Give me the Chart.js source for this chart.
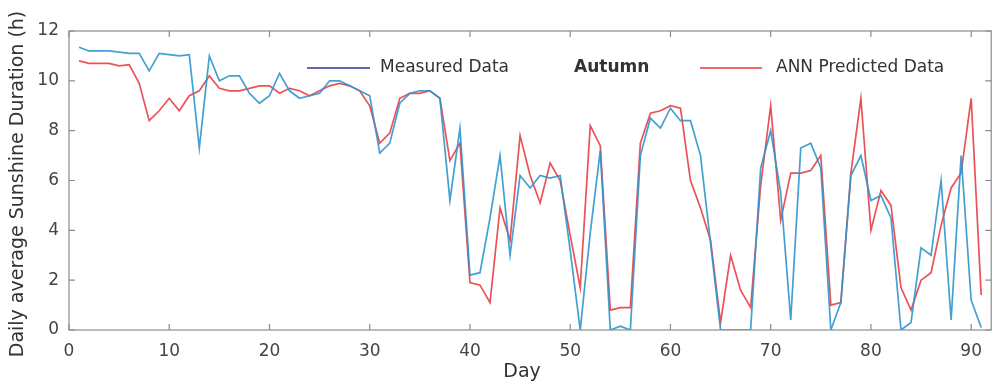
<!DOCTYPE html>
<html>
<head>
<meta charset="utf-8">
<script src="https://cdn.jsdelivr.net/npm/chart.js@4.4.0/dist/chart.umd.min.js"></script>
<style>
  html, body { margin: 0; padding: 0; background: #fff; }
  #wrap { width: 993px; height: 385px; }
</style>
</head>
<body>
<div id="wrap"><canvas id="chart" width="993" height="385"></canvas></div>
<script>
// day numbers (x axis)
var days = [1,2,3,4,5,6,7,8,9,10,11,12,13,14,15,16,17,18,19,20,
  21,22,23,24,25,26,27,28,29,30,31,32,33,34,35,36,37,38,39,40,
  41,42,43,44,45,46,47,48,49,50,51,52,53,54,55,56,57,58,59,60,
  61,62,63,64,65,66,67,68,69,70,71,72,73,74,75,76,77,78,79,80,
  81,82,83,84,85,86,87,88,89,90,91];

// measured daily sunshine duration (h)
var measured = [11.35,11.2,11.2,11.2,11.15,11.1,11.1,10.4,11.1,11.05,
  11.0,11.05,7.3,11.0,10.0,10.2,10.2,9.5,9.1,9.4,
  10.3,9.6,9.3,9.4,9.5,10.0,10.0,9.8,9.6,9.4,
  7.1,7.5,9.1,9.5,9.6,9.6,9.3,5.2,8.1,2.2,
  2.3,4.5,7.0,3.0,6.2,5.7,6.2,6.1,6.2,3.2,
  0.0,3.9,7.2,0.0,0.15,0.0,7.0,8.5,8.1,8.9,
  8.4,8.4,7.0,3.5,0.0,0.0,0.0,0.0,6.5,8.0,
  5.5,0.4,7.3,7.5,6.5,0.0,1.1,6.2,7.0,5.2,
  5.4,4.5,0.0,0.3,3.3,3.0,6.0,0.4,7.0,1.2,0.1];

// ANN predicted daily sunshine duration (h)
var predicted = [10.8,10.7,10.7,10.7,10.6,10.65,9.9,8.4,8.8,9.3,
  8.8,9.4,9.6,10.2,9.7,9.6,9.6,9.7,9.8,9.8,
  9.5,9.7,9.6,9.4,9.6,9.8,9.9,9.8,9.6,9.0,
  7.5,7.9,9.3,9.5,9.5,9.6,9.3,6.8,7.5,1.9,
  1.8,1.1,4.9,3.6,7.8,6.2,5.1,6.7,6.0,3.8,
  1.7,8.2,7.4,0.8,0.9,0.9,7.5,8.7,8.8,9.0,
  8.9,6.0,4.9,3.6,0.3,3.0,1.6,0.9,5.8,9.0,
  4.4,6.3,6.3,6.4,7.0,1.0,1.1,6.3,9.3,4.0,
  5.6,5.0,1.7,0.8,2.0,2.3,4.2,5.7,6.3,9.3,1.4];

var xTicks = [0,10,20,30,40,50,60,70,80,90];
var yTicks = [0,2,4,6,8,10,12];

var seriesNames = ['Measured Data', 'ANN Predicted Data'];
var seasonLabel = 'Autumn';

function toPoints(vals) {
  return days.map(function (d, i) { return { x: d, y: vals[i] }; });
}

var boxAndLegend = {
  id: 'boxAndLegend',
  afterDatasetsDraw: function (chart) {
    var ctx = chart.ctx, a = chart.chartArea;
    var xs = chart.scales.x, ys = chart.scales.y;
    ctx.save();
    // box
    ctx.strokeStyle = '#8c8c8c';
    ctx.lineWidth = 1.2;
    ctx.strokeRect(a.left, a.top, a.right - a.left, a.bottom - a.top);
    // inward ticks
    ctx.beginPath();
    xTicks.forEach(function (t) {
      var px = xs.getPixelForValue(t);
      ctx.moveTo(px, a.bottom); ctx.lineTo(px, a.bottom - 6);
      ctx.moveTo(px, a.top); ctx.lineTo(px, a.top + 6);
    });
    yTicks.forEach(function (t) {
      var py = ys.getPixelForValue(t);
      ctx.moveTo(a.left, py); ctx.lineTo(a.left + 6, py);
      ctx.moveTo(a.right, py); ctx.lineTo(a.right - 6, py);
    });
    ctx.stroke();

    // legend
    var ly = 68;
    ctx.lineWidth = 1.6;
    ctx.strokeStyle = '#2b3590';
    ctx.beginPath(); ctx.moveTo(307, ly); ctx.lineTo(370, ly); ctx.stroke();
    ctx.strokeStyle = '#e8383d';
    ctx.beginPath(); ctx.moveTo(700, ly); ctx.lineTo(762, ly); ctx.stroke();
    ctx.fillStyle = '#333';
    ctx.textBaseline = 'middle';
    ctx.textAlign = 'left';
    ctx.font = '17px "DejaVu Sans"';
    ctx.fillText(seriesNames[0], 380, ly);
    ctx.fillText(seriesNames[1], 776, ly);
    ctx.font = 'bold 17px "DejaVu Sans"';
    ctx.fillText(seasonLabel, 574, ly);

    // axis titles
    ctx.font = '19px "DejaVu Sans"';
    ctx.textAlign = 'center';
    ctx.fillText('Day', (a.left + a.right) / 2 - 8, 372);
    ctx.translate(18, 184);
    ctx.rotate(-Math.PI / 2);
    ctx.fillText('Daily average Sunshine Duration (h)', 0, 0);
    ctx.restore();
  }
};

new Chart(document.getElementById('chart'), {
  type: 'line',
  data: {
    datasets: [
      {
        label: seriesNames[0],
        data: toPoints(measured),
        borderColor: 'rgba(45,150,205,0.9)',
        borderWidth: 1.7,
        pointRadius: 0,
        tension: 0
      },
      {
        label: seriesNames[1],
        data: toPoints(predicted),
        borderColor: 'rgba(232,50,58,0.85)',
        borderWidth: 1.7,
        pointRadius: 0,
        tension: 0
      }
    ]
  },
  options: {
    responsive: false,
    animation: false,
    devicePixelRatio: 1,
    layout: { padding: { top: 31, right: 1, left: 0, bottom: 0 } },
    plugins: { legend: { display: false }, tooltip: { enabled: false } },
    scales: {
      x: {
        type: 'linear',
        min: 0,
        max: 92,
        afterFit: function (s) { s.height = 55; },
        afterBuildTicks: function (s) { s.ticks = xTicks.map(function (v) { return { value: v }; }); },
        grid: { display: false, drawTicks: false },
        border: { display: false },
        ticks: { padding: 11, color: '#444', font: { family: 'DejaVu Sans', size: 17 } }
      },
      y: {
        min: 0,
        max: 12,
        afterFit: function (s) { s.width = 69; },
        afterBuildTicks: function (s) { s.ticks = yTicks.map(function (v) { return { value: v }; }); },
        grid: { display: false, drawTicks: false },
        border: { display: false },
        ticks: { padding: 10, color: '#444', font: { family: 'DejaVu Sans', size: 17 } }
      }
    }
  },
  plugins: [boxAndLegend]
});
</script>
</body>
</html>
